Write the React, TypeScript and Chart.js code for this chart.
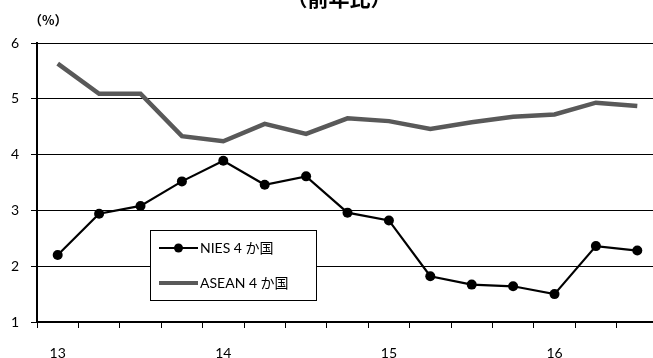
import React, { useEffect, useRef } from 'react';
import { Chart, registerables } from 'chart.js';
Chart.register(...registerables);

const categories = ['13', '', '', '', '14', '', '', '', '15', '', '', '', '16', '', ''];
const nies = [2.2, 2.94, 3.08, 3.52, 3.89, 3.46, 3.61, 2.96, 2.82, 1.82, 1.67, 1.64, 1.5, 2.36, 2.28];
const asean = [5.63, 5.09, 5.09, 4.33, 4.24, 4.55, 4.37, 4.65, 4.6, 4.46, 4.58, 4.68, 4.72, 4.93, 4.87];
const seriesNames = ['NIES 4 か国', 'ASEAN 4 か国'];
const titleText = '（前年比）';
const unitText = '（%）';

const FONT = "Lato, 'Noto Sans CJK JP', sans-serif";
const JFONT = "'Noto Sans CJK JP', sans-serif";

const overlayPlugin = {
  id: 'overlay',
  afterDraw(chart: any) {
    const ctx = chart.ctx;
    ctx.save();
    // title (cut off at top)
    ctx.fillStyle = '#000';
    ctx.font = `bold 21px ${JFONT}`;
    ctx.textAlign = 'center';
    ctx.textBaseline = 'alphabetic';
    ctx.fillText(titleText, 339, 6);
    // unit
    ctx.font = `bold 13px ${JFONT}`;
    ctx.textAlign = 'left';
    ctx.textBaseline = 'middle';
    ctx.fillText(unitText, 29, 20);
    // legend
    const lx = 150.5, ly = 230.5, lw = 166, lh = 70;
    ctx.fillStyle = '#fff';
    ctx.fillRect(lx, ly, lw, lh);
    ctx.strokeStyle = '#000';
    ctx.lineWidth = 1;
    ctx.strokeRect(lx, ly, lw, lh);
    // NIES
    ctx.strokeStyle = '#000';
    ctx.lineWidth = 2;
    ctx.beginPath();
    ctx.moveTo(159, 248);
    ctx.lineTo(198, 248);
    ctx.stroke();
    ctx.fillStyle = '#000';
    ctx.beginPath();
    ctx.arc(178.5, 248, 4.5, 0, Math.PI * 2);
    ctx.fill();
    // ASEAN
    ctx.strokeStyle = '#595959';
    ctx.lineWidth = 4;
    ctx.beginPath();
    ctx.moveTo(159, 283);
    ctx.lineTo(198, 283);
    ctx.stroke();
    ctx.fillStyle = '#000';
    ctx.font = `14px ${FONT}`;
    ctx.textAlign = 'left';
    ctx.textBaseline = 'middle';
    ctx.fillText(seriesNames[0], 200, 248);
    ctx.fillText(seriesNames[1], 200, 283);
    ctx.restore();
  },
};

export default function App() {
  const ref = useRef<HTMLCanvasElement>(null);
  useEffect(() => {
    if (!ref.current) return;
    const chart = new Chart(ref.current, {
      type: 'line',
      data: {
        labels: categories,
        datasets: [
          {
            label: seriesNames[0],
            data: nies,
            borderColor: '#000',
            backgroundColor: '#000',
            borderWidth: 2.2,
            pointRadius: 5,
            pointBackgroundColor: '#000',
            pointBorderWidth: 0,
            tension: 0,
          },
          {
            label: seriesNames[1],
            data: asean,
            borderColor: '#595959',
            backgroundColor: '#595959',
            borderWidth: 4.5,
            pointRadius: 0,
            tension: 0,
          },
        ],
      },
      options: {
        responsive: false,
        animation: false,
        layout: { padding: { top: 43, left: 0, right: 22, bottom: 0 } },
        plugins: { legend: { display: false }, title: { display: false }, tooltip: { enabled: false } },
        scales: {
          x: {
            type: 'category',
            offset: true,
            grid: { offset: true, drawOnChartArea: false, color: '#000', tickLength: 6, lineWidth: 1 },
            border: { color: '#000', width: 2 },
            ticks: {
              autoSkip: false,
              maxRotation: 0,
              padding: 17,
              color: '#000',
              font: { family: FONT, size: 14 },
            },
            afterFit: (s: any) => { s.height = 36; },
          },
          y: {
            min: 1,
            max: 6,
            ticks: { stepSize: 1, padding: 12, color: '#000', font: { family: FONT, size: 14 } },
            grid: { color: '#000', lineWidth: 1, tickLength: 6 },
            border: { color: '#000', width: 2 },
            afterFit: (s: any) => { s.width = 37; },
          },
        },
      },
      plugins: [overlayPlugin],
    });
    return () => chart.destroy();
  }, []);
  return (
    <div style={{ position: 'absolute', left: 0, top: 0, width: 653, height: 358, overflow: 'hidden', background: '#fff' }}>
      <canvas ref={ref} width={680} height={358} style={{ width: 680, height: 358, display: 'block' }} />
    </div>
  );
}
